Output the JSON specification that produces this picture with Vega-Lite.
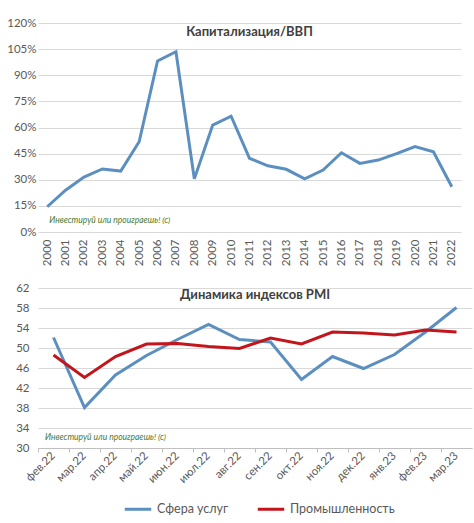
{
  "$schema": "https://vega.github.io/schema/vega-lite/v6.json",
  "padding": {"left": 6, "top": 17, "right": 8, "bottom": 4},
  "background": "white",
  "config": {
    "font": "Lato",
    "view": {"stroke": null},
    "concat": {"spacing": 16},
    "axis": {
      "labelColor": "#595959",
      "labelFontSize": 11.5,
      "labelOverlap": false,
      "gridColor": "#d9d9d9",
      "gridWidth": 1,
      "title": null
    },
    "title": {"fontSize": 13, "fontWeight": "bold", "color": "#404040", "anchor": "middle"}
  },
  "vconcat": [
    {
      "width": 423,
      "height": 209,
      "title": {"text": "Капитализация/ВВП", "offset": -22},
      "data": {
        "values": [
          {"year": "2000", "value": 0.145},
          {"year": "2001", "value": 0.24},
          {"year": "2002", "value": 0.315},
          {"year": "2003", "value": 0.362},
          {"year": "2004", "value": 0.35},
          {"year": "2005", "value": 0.518},
          {"year": "2006", "value": 0.982},
          {"year": "2007", "value": 1.035},
          {"year": "2008", "value": 0.305},
          {"year": "2009", "value": 0.614},
          {"year": "2010", "value": 0.665},
          {"year": "2011", "value": 0.423},
          {"year": "2012", "value": 0.38},
          {"year": "2013", "value": 0.36},
          {"year": "2014", "value": 0.305},
          {"year": "2015", "value": 0.356},
          {"year": "2016", "value": 0.455},
          {"year": "2017", "value": 0.394},
          {"year": "2018", "value": 0.413},
          {"year": "2019", "value": 0.45},
          {"year": "2020", "value": 0.49},
          {"year": "2021", "value": 0.461},
          {"year": "2022", "value": 0.26}
        ]
      },
      "layer": [
        {
          "mark": {"type": "line", "color": "#5b8fc0", "strokeWidth": 3},
          "encoding": {
            "x": {
              "field": "year", "type": "ordinal",
              "scale": {"type": "point", "padding": 0.5},
              "axis": {"labelAngle": -90, "labelAlign": "right", "labelBaseline": "middle", "labelPadding": 7, "ticks": false, "domain": false, "grid": false}
            },
            "y": {
              "field": "value", "type": "quantitative",
              "scale": {"domain": [0, 1.2], "nice": false},
              "axis": {"format": ".0%", "values": [0, 0.15, 0.3, 0.45, 0.6, 0.75, 0.9, 1.05, 1.2], "ticks": false, "domain": false, "labelPadding": 2, "labelOverlap": false}
            }
          }
        },
        {
          "data": {"values": [{"year": "2000", "value": 0.068, "label": "Инвестируй или проиграешь! (с)"}]},
          "mark": {"type": "text", "align": "left", "baseline": "middle", "dx": 2, "fontSize": 8.5, "fontStyle": "italic", "color": "#4a7a30"},
          "encoding": {
            "x": {
              "field": "year", "type": "ordinal",
              "axis": {"labelAngle": -90, "labelAlign": "right", "labelBaseline": "middle", "labelPadding": 7, "ticks": false, "domain": false, "grid": false}
            },
            "y": {
              "field": "value", "type": "quantitative",
              "axis": {"format": ".0%", "values": [0, 0.15, 0.3, 0.45, 0.6, 0.75, 0.9, 1.05, 1.2], "ticks": false, "domain": false, "labelPadding": 2, "labelOverlap": false}
            },
            "text": {"field": "label"}
          }
        }
      ]
    },
    {
      "width": 434,
      "height": 160,
      "title": {"text": "Динамика индексов PMI", "offset": -20},
      "data": {
        "values": [
          {"month": "фев.22", "series": "Сфера услуг", "value": 52.1},
          {"month": "мар.22", "series": "Сфера услуг", "value": 38.1},
          {"month": "апр.22", "series": "Сфера услуг", "value": 44.6},
          {"month": "май.22", "series": "Сфера услуг", "value": 48.5},
          {"month": "июн.22", "series": "Сфера услуг", "value": 51.7},
          {"month": "июл.22", "series": "Сфера услуг", "value": 54.7},
          {"month": "авг.22", "series": "Сфера услуг", "value": 51.7},
          {"month": "сен.22", "series": "Сфера услуг", "value": 51.2},
          {"month": "окт.22", "series": "Сфера услуг", "value": 43.7},
          {"month": "ноя.22", "series": "Сфера услуг", "value": 48.3},
          {"month": "дек.22", "series": "Сфера услуг", "value": 45.9},
          {"month": "янв.23", "series": "Сфера услуг", "value": 48.7},
          {"month": "фев.23", "series": "Сфера услуг", "value": 53.2},
          {"month": "мар.23", "series": "Сфера услуг", "value": 58.1},
          {"month": "фев.22", "series": "Промышленность", "value": 48.6},
          {"month": "мар.22", "series": "Промышленность", "value": 44.1},
          {"month": "апр.22", "series": "Промышленность", "value": 48.3},
          {"month": "май.22", "series": "Промышленность", "value": 50.8},
          {"month": "июн.22", "series": "Промышленность", "value": 50.9},
          {"month": "июл.22", "series": "Промышленность", "value": 50.3},
          {"month": "авг.22", "series": "Промышленность", "value": 49.9},
          {"month": "сен.22", "series": "Промышленность", "value": 52.0},
          {"month": "окт.22", "series": "Промышленность", "value": 50.8},
          {"month": "ноя.22", "series": "Промышленность", "value": 53.2},
          {"month": "дек.22", "series": "Промышленность", "value": 53.0},
          {"month": "янв.23", "series": "Промышленность", "value": 52.6},
          {"month": "фев.23", "series": "Промышленность", "value": 53.6},
          {"month": "мар.23", "series": "Промышленность", "value": 53.2}
        ]
      },
      "layer": [
        {
          "mark": {"type": "line", "strokeWidth": 3},
          "encoding": {
            "x": {
              "field": "month", "type": "ordinal",
              "sort": null,
              "scale": {"type": "band", "paddingInner": 0, "paddingOuter": 0, "domain": ["фев.22", "мар.22", "апр.22", "май.22", "июн.22", "июл.22", "авг.22", "сен.22", "окт.22", "ноя.22", "дек.22", "янв.23", "фев.23", "мар.23"]},
              "axis": {"labelAngle": -45, "labelAlign": "right", "labelBaseline": "middle", "labelPadding": 6, "ticks": false, "domain": true, "domainColor": "#bfbfbf", "grid": false, "orient": "bottom"}
            },
            "y": {
              "field": "value", "type": "quantitative",
              "scale": {"domain": [30, 62], "nice": false},
              "axis": {"values": [30, 34, 38, 42, 46, 50, 54, 58, 62], "ticks": false, "domain": false, "labelPadding": 9, "labelOverlap": false}
            },
            "color": {
              "field": "series", "type": "nominal",
              "scale": {"domain": ["Сфера услуг", "Промышленность"], "range": ["#5b8fc0", "#c3161c"]},
              "legend": {"orient": "none", "legendX": 85, "legendY": 471, "direction": "horizontal", "title": null, "symbolType": "stroke", "symbolSize": 700, "symbolStrokeWidth": 3, "labelFontSize": 12.5, "labelColor": "#595959", "columnPadding": 22}
            }
          }
        },
        {
          "data": {"values": [{"month": "фев.22", "value": 32.3, "label": "Инвестируй или проиграешь! (с)"}]},
          "mark": {"type": "text", "align": "left", "baseline": "middle", "dx": 7, "fontSize": 8.5, "fontStyle": "italic", "color": "#4a7a30"},
          "encoding": {
            "x": {
              "field": "month", "type": "ordinal", "bandPosition": 0, "sort": null,
              "axis": {"bandPosition": 0, "labels": false, "ticks": true, "tickSize": 4, "tickColor": "#bfbfbf", "domain": false, "grid": false, "orient": "bottom"}
            },
            "y": {
              "field": "value", "type": "quantitative",
              "axis": {"values": [30, 34, 38, 42, 46, 50, 54, 58, 62], "ticks": false, "domain": false, "labelPadding": 9, "labelOverlap": false}
            },
            "text": {"field": "label"}
          }
        }
      ],
      "resolve": {"axis": {"x": "independent"}}
    }
  ]
}
